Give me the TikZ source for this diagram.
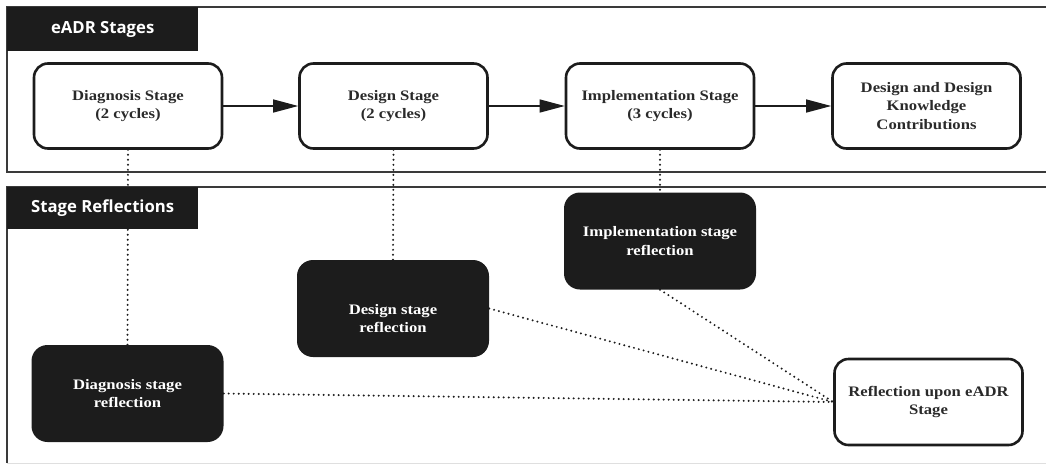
\documentclass[tikz,border=0pt]{standalone}
\usepackage{fontspec}
\setmainfont{Liberation Serif}
\newfontfamily\boxfont[FakeStretch=1.15]{Liberation Serif}
\newfontfamily\headfont{Open Sans}
\usetikzlibrary{arrows.meta}
\definecolor{ink}{HTML}{1C1C1C}
\definecolor{txt}{HTML}{2A2A2A}
\definecolor{frame}{HTML}{3A3A3A}
\tikzset{
  boxtext/.style={align=center, font=\boxfont\bfseries\fontsize{14.5}{18.5}\selectfont},
  stagebox/.style={boxtext, draw=ink, line width=2.6pt, rounded corners=14pt,
    fill=white, text=txt, minimum width=188pt, minimum height=85pt, inner sep=0pt},
  reflbox/.style={boxtext, fill=ink, rounded corners=16pt, text=white,
    minimum width=192pt, minimum height=97pt, inner sep=0pt},
  header/.style={fill=ink, text=white, anchor=north west, inner sep=0pt,
    minimum width=191pt, font=\headfont\bfseries\fontsize{16.7}{19}\selectfont},
  flow/.style={draw=ink, line width=1.3pt, -{Triangle[length=25pt,width=13pt]}},
  link/.style={draw=ink, line width=2.2pt, line cap=round, dash pattern=on 0pt off 5pt},
  panel/.style={draw=frame, line width=1.4pt},
}
\begin{document}
\begin{tikzpicture}[x=1pt, y=-1pt]
  \useasboundingbox (0,0) rectangle (1046,464);

  % panel frames
  \draw[panel] (1046,7) -- (7,7) -- (7,172) -- (1046,172);
  \draw[panel] (1046,187) -- (7,187) -- (7,463);
  \draw[gray!25, line width=1pt] (7,463) -- (1046,463);

  % eADR stages
  \node[stagebox] (diag)   at (128,106)   {Diagnosis Stage\\(2 cycles)};
  \node[stagebox] (design) at (393.5,106) {Design Stage\\(2 cycles)};
  \node[stagebox] (impl)   at (660,106)   {Implementation Stage\\(3 cycles)};
  \node[stagebox] (contrib) at (926.5,106) {Design and Design\\Knowledge\\Contributions};

  % stage reflections
  \node[reflbox] (diagR)   at (127.5,393.5) {Diagnosis stage\\reflection};
  \node[reflbox] (designR) at (393,308.5)   {};
  \node[boxtext, text=white] (designRtext) at ([yshift=-10pt]designR.center)
    {Design stage\\reflection};
  \node[reflbox] (implR)   at (660,241)     {Implementation stage\\reflection};
  \node[stagebox, minimum width=188pt, minimum height=86pt] (upon) at (928.5,402)
    {Reflection upon eADR\\Stage};

  % stage flow
  \draw[flow] (diag) -- (design);
  \draw[flow] (design) -- (impl);
  \draw[flow] (impl) -- (contrib);

  % reflection links
  \draw[link] (diag.south) -- (diagR.north);
  \draw[link] (design.south) -- (designR.north);
  \draw[link] (impl.south) -- (implR.north);
  \draw[link] (diagR.east) -- (upon.west);
  \draw[link] (designR.east) -- (upon.west);
  \draw[link] (implR.south) -- (upon.west);

  % panel headers
  \node[header, minimum height=44pt] (hStages) at (7,7) {eADR Stages};
  \node[header, minimum height=42pt] (hRefl) at (7,187) {Stage Reflections};
\end{tikzpicture}
\end{document}
